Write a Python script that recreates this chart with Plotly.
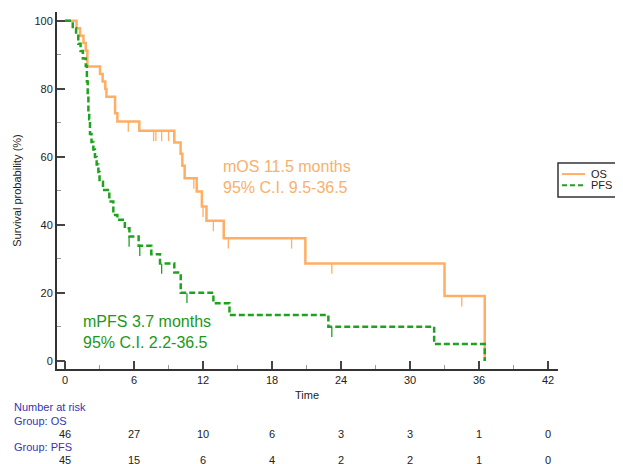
import plotly.graph_objects as go

# ---------------- data ----------------
os_time = [0, 1.0, 1.3, 1.6, 1.8, 1.94, 3.04, 3.27, 3.5, 3.6, 4.35, 4.55, 6.46, 9.5, 10.05, 10.2, 10.4, 11.45, 11.9, 12.3, 13.8, 20.9, 33.0, 36.5]
os_surv = [100, 97.8, 95.6, 93.5, 91.3, 86.6, 84.4, 82.2, 80.0, 77.7, 72.8, 70.4, 67.7, 64.2, 60.9, 57.4, 53.7, 49.8, 45.4, 41.2, 36.1, 28.7, 19.1, 0]
os_cens_time = [5.5, 7.7, 7.9, 8.4, 9.0, 11.2, 12.0, 12.9, 14.2, 19.7, 23.2, 34.5]
os_cens_surv = [70.4, 67.7, 67.7, 67.7, 67.7, 53.7, 45.4, 41.2, 36.1, 36.1, 28.7, 19.1]

pfs_time = [0, 0.67, 0.96, 1.15, 1.35, 1.55, 1.8, 1.9, 1.97, 2.03, 2.1, 2.17, 2.3, 2.46, 2.6, 2.75, 2.9, 3.0, 3.3, 3.85, 4.2, 4.55, 5.2, 5.6, 6.4, 7.5, 8.26, 9.5, 10.06, 12.9, 14.3, 22.9, 32.1, 36.5]
pfs_surv = [100, 97.8, 95.6, 93.3, 91.1, 88.9, 86.7, 82.2, 77.8, 73.3, 71.1, 66.7, 64.4, 62.2, 60.0, 57.8, 55.6, 52.7, 50.3, 46.9, 42.9, 41.5, 39.0, 36.6, 33.9, 31.4, 28.7, 26.0, 20.1, 17.0, 13.5, 10.1, 5.0, 0]
pfs_cens_time = [5.57, 6.5, 8.4, 10.6, 23.2]
pfs_cens_surv = [36.6, 33.9, 28.7, 20.1, 10.1]

x_ticks = [0, 6, 12, 18, 24, 30, 36, 42]
y_ticks = [0, 20, 40, 60, 80, 100]
risk_os = [46, 27, 10, 6, 3, 3, 1, 0]
risk_pfs = [45, 15, 6, 4, 2, 2, 1, 0]
series_names = ["OS", "PFS"]

OS_COLOR = "#FFAE63"
PFS_COLOR = "#1FA31F"
OS_TEXT = "#F9B06C"
PFS_TEXT = "#1A991A"
BLUE = "#3434B4"
FONT = "Arial, Liberation Sans, sans-serif"

fig = go.Figure()
fig.add_trace(go.Scatter(x=os_time, y=os_surv, mode="lines", line=dict(shape="hv", color=OS_COLOR, width=2.5),
                         name=series_names[0], showlegend=False))
fig.add_trace(go.Scatter(x=pfs_time, y=pfs_surv, mode="lines",
                         line=dict(shape="hv", color=PFS_COLOR, width=2.5, dash="6px,3px"),
                         name=series_names[1], showlegend=False))
# censor marks (short ticks hanging below the line)
fig.add_trace(go.Scatter(x=os_cens_time, y=[s - 1.6 for s in os_cens_surv], mode="markers",
                         marker=dict(symbol="line-ns", size=7, line=dict(color=OS_COLOR, width=1.3)),
                         showlegend=False, hoverinfo="skip"))
fig.add_trace(go.Scatter(x=pfs_cens_time, y=[s - 1.6 for s in pfs_cens_surv], mode="markers",
                         marker=dict(symbol="line-ns", size=7, line=dict(color=PFS_COLOR, width=1.3)),
                         showlegend=False, hoverinfo="skip"))

axis_common = dict(showline=True, linecolor="#333333", linewidth=2, ticks="inside", ticklen=8, tickwidth=2,
                   tickcolor="#444444", showgrid=False, zeroline=False,
                   tickfont=dict(family=FONT, size=11, color="#222222"))

fig.update_xaxes(range=[-0.7, 42.87], tickvals=x_ticks, ticktext=[str(v) for v in x_ticks],
                 minor=dict(dtick=3, tick0=0, ticks="inside", ticklen=4, tickwidth=1, tickcolor="#999999"),
                 **axis_common)
fig.update_yaxes(range=[-2.35, 102.6], tickvals=y_ticks, ticktext=[str(v) for v in y_ticks],
                 minor=dict(dtick=10, tick0=0, ticks="inside", ticklen=4, tickwidth=1, tickcolor="#999999"),
                 title=dict(text="Survival probability (%)", font=dict(family=FONT, size=11, color="#222222"),
                            standoff=11),
                 **axis_common)

annotations = [
    dict(x=21, y=-0.073, xref="x", yref="paper", text="Time", showarrow=False, yanchor="middle",
         font=dict(family=FONT, size=11, color="#222222")),
    dict(x=13.6, y=54, xref="x", yref="y", text="mOS 11.5 months<br>95% C.I. 9.5-36.5", showarrow=False,
         xanchor="left", yanchor="middle", align="left", font=dict(family=FONT, size=16, color=OS_TEXT)),
    dict(x=1.35, y=8.4, xref="x", yref="y", text="mPFS 3.7 months<br>95% C.I. 2.2-36.5", showarrow=False,
         xanchor="left", yanchor="middle", align="left", font=dict(family=FONT, size=16, color=PFS_TEXT)),
    dict(x=-0.0898, y=-0.106, xref="paper", yref="paper", text="Number at risk", showarrow=False,
         xanchor="left", yanchor="middle", font=dict(family=FONT, size=11, color=BLUE)),
    dict(x=-0.0898, y=-0.146, xref="paper", yref="paper", text="Group: " + series_names[0], showarrow=False,
         xanchor="left", yanchor="middle", font=dict(family=FONT, size=11, color=BLUE)),
    dict(x=-0.0898, y=-0.218, xref="paper", yref="paper", text="Group: " + series_names[1], showarrow=False,
         xanchor="left", yanchor="middle", font=dict(family=FONT, size=11, color=BLUE)),
    # legend texts
    dict(x=1.062, y=0.546, xref="paper", yref="paper", text=series_names[0], showarrow=False,
         xanchor="left", yanchor="middle", font=dict(family=FONT, size=11, color="#222222")),
    dict(x=1.062, y=0.515, xref="paper", yref="paper", text=series_names[1], showarrow=False,
         xanchor="left", yanchor="middle", font=dict(family=FONT, size=11, color="#222222")),
]
for t, n in zip(x_ticks, risk_os):
    annotations.append(dict(x=t, y=-0.182, xref="x", yref="paper", text=str(n), showarrow=False,
                            yanchor="middle", font=dict(family=FONT, size=11, color="#222222")))
for t, n in zip(x_ticks, risk_pfs):
    annotations.append(dict(x=t, y=-0.255, xref="x", yref="paper", text=str(n), showarrow=False,
                            yanchor="middle", font=dict(family=FONT, size=11, color="#222222")))

shapes = [
    # legend box and samples
    dict(type="rect", xref="paper", yref="paper", x0=1.0, x1=1.2, y0=0.482, y1=0.577,
         line=dict(color="#333333", width=1.5), fillcolor="white", layer="above"),
    dict(type="line", xref="paper", yref="paper", x0=1.008, x1=1.054, y0=0.546, y1=0.546,
         line=dict(color=OS_COLOR, width=2)),
    dict(type="line", xref="paper", yref="paper", x0=1.008, x1=1.054, y0=0.515, y1=0.515,
         line=dict(color=PFS_COLOR, width=2, dash="5px,3px")),
]

fig.update_layout(
    width=615, height=456,
    margin=dict(l=49, r=65, t=4, b=95, autoexpand=False),
    paper_bgcolor="white", plot_bgcolor="white",
    showlegend=False,
    annotations=annotations,
    shapes=shapes,
    font=dict(family=FONT),
)

fig.write_html("out.html")
